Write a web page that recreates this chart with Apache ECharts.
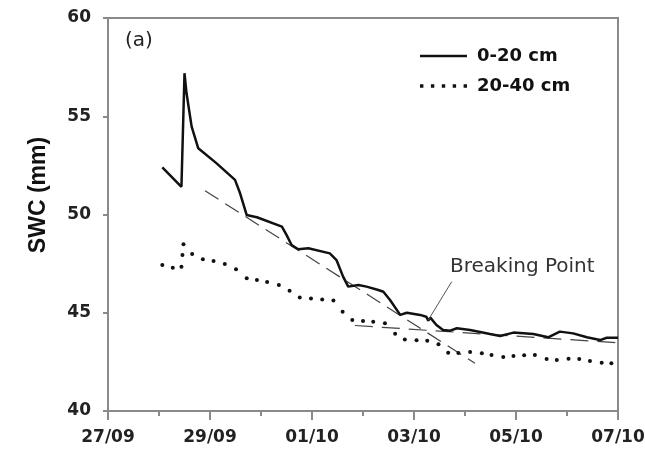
<!DOCTYPE html>
<html>
<head>
<meta charset="utf-8">
<script src="https://cdn.jsdelivr.net/npm/echarts@6/dist/echarts.min.js"></script>
<style>
html,body{margin:0;padding:0;background:#fff;}
#chart{width:645px;height:455px;}
</style>
</head>
<body>
<div id="chart"></div>
<script>
// x values are days since 27/09 00:00
const tickDays = [0, 2, 4, 6, 8, 10];
const tickLabels = ['27/09', '29/09', '01/10', '03/10', '05/10', '07/10'];

const days020 = [1.065, 1.44, 1.50, 1.54, 1.64, 1.77, 2.13, 2.49, 2.59, 2.72, 2.85, 2.92, 3.41, 3.50, 3.60, 3.73, 3.93, 4.35, 4.48, 4.61, 4.71, 4.91, 5.07, 5.30, 5.40, 5.53, 5.73, 5.86, 6.12, 6.24, 6.28, 6.32, 6.44, 6.57, 6.71, 6.84, 7.10, 7.49, 7.69, 7.95, 8.34, 8.63, 8.86, 9.12, 9.39, 9.65, 9.78, 10.0];
const swc020 = [52.40, 51.41, 57.19, 56.17, 54.47, 53.37, 52.60, 51.76, 51.08, 49.97, 49.90, 49.86, 49.38, 48.96, 48.45, 48.23, 48.28, 48.02, 47.68, 46.84, 46.33, 46.41, 46.33, 46.16, 46.07, 45.65, 44.89, 45.00, 44.89, 44.80, 44.60, 44.75, 44.38, 44.12, 44.09, 44.21, 44.12, 43.92, 43.82, 43.99, 43.92, 43.75, 44.04, 43.95, 43.75, 43.61, 43.73, 43.73];

const days2040 = [1.065, 1.27, 1.44, 1.46, 1.48, 1.65, 1.86, 2.07, 2.29, 2.51, 2.72, 2.92, 3.12, 3.35, 3.56, 3.76, 3.98, 4.20, 4.42, 4.60, 4.79, 5.00, 5.20, 5.43, 5.63, 5.82, 6.05, 6.26, 6.48, 6.67, 6.87, 7.10, 7.33, 7.52, 7.75, 7.95, 8.16, 8.37, 8.60, 8.80, 9.03, 9.24, 9.45, 9.68, 9.87];
const swc2040 = [47.43, 47.29, 47.34, 47.94, 48.48, 47.99, 47.72, 47.63, 47.48, 47.21, 46.75, 46.67, 46.56, 46.41, 46.12, 45.78, 45.72, 45.68, 45.62, 45.05, 44.63, 44.58, 44.54, 44.46, 43.93, 43.64, 43.60, 43.58, 43.40, 42.97, 42.95, 43.00, 42.94, 42.85, 42.75, 42.80, 42.84, 42.85, 42.64, 42.60, 42.66, 42.64, 42.54, 42.45, 42.43];

const trend1Days = [1.902, 7.196];
const trend1Vals = [51.21, 42.43];
const trend2Days = [4.84, 10.18];
const trend2Vals = [44.35, 43.44];

const arrowFrom = [6.739, 46.58];
const arrowTo = [6.28, 44.63];

const seriesNames = ['0-20 cm', '20-40 cm'];

const zip = (a, b) => a.map((v, i) => [v, b[i]]);

const chart = echarts.init(document.getElementById('chart'));
const tickFont = 'DejaVu Sans';

chart.setOption({
  animation: false,
  backgroundColor: '#ffffff',
  grid: {
    left: 108, right: 27, top: 18, bottom: 44,
    show: true, borderColor: '#8a8a8a', borderWidth: 2,
    outerBoundsMode: 'none', containLabel: false
  },
  legend: {
    orient: 'vertical',
    left: 415, top: 41,
    itemWidth: 47, itemHeight: 20, itemGap: 10,
    selectedMode: false,
    textStyle: { fontFamily: tickFont, fontWeight: 'bold', fontSize: 18, color: '#111', lineHeight: 20, padding: [0, 0, 0, 5] },
    data: [
      { name: seriesNames[0], icon: 'path://M0,0H47V2.4H0Z', itemStyle: { color: '#111' } },
      { name: seriesNames[1], icon: 'path://M0,0h3.4v3.4h-3.4z M10.9,0h3.4v3.4h-3.4z M21.8,0h3.4v3.4h-3.4z M32.7,0h3.4v3.4h-3.4z M43.6,0h3.4v3.4h-3.4z', itemStyle: { color: '#111' } }
    ]
  },
  xAxis: {
    type: 'value', min: 0, max: 10, interval: 2,
    axisLine: { show: true, lineStyle: { color: '#8a8a8a', width: 2 } },
    axisTick: { show: true, length: 9, lineStyle: { color: '#8a8a8a', width: 2 } },
    minorTick: { show: true, splitNumber: 2, length: 5, lineStyle: { color: '#8a8a8a', width: 2 } },
    splitLine: { show: false },
    axisLabel: {
      margin: 18, fontFamily: tickFont, fontWeight: 'bold', fontSize: 17, color: '#222',
      formatter: v => { const i = tickDays.indexOf(Math.round(v)); return i >= 0 ? tickLabels[i] : ''; }
    }
  },
  yAxis: {
    type: 'value', min: 40, max: 60, interval: 5,
    axisLine: { show: true, lineStyle: { color: '#8a8a8a', width: 2 } },
    axisTick: { show: true, length: 5, lineStyle: { color: '#8a8a8a', width: 2 } },
    splitLine: { show: false },
    axisLabel: { margin: 17, fontFamily: tickFont, fontWeight: 'bold', fontSize: 17, color: '#222' }
  },
  graphic: [
    { type: 'text', left: 125, top: 31, style: { text: '(a)', font: '20px "DejaVu Sans"', fill: '#222' } },
    { type: 'text', x: 450, y: 267, style: { text: 'Breaking Point', font: '20px "DejaVu Sans"', fill: '#333', verticalAlign: 'middle' } },
    { type: 'text', x: 39, y: 195, rotation: Math.PI / 2, style: { text: 'SWC (mm)', font: 'bold 23px "Liberation Sans"', fill: '#111', align: 'center', verticalAlign: 'middle' } }
  ],
  series: [
    {
      name: 'trend1', type: 'line', data: zip(trend1Days, trend1Vals), showSymbol: false, symbol: 'none',
      lineStyle: { color: '#444', width: 1.2, type: [16, 8] }, silent: true, z: 1,
      markLine: {
        silent: true, symbol: ['none', 'arrow'], symbolSize: [0, 8],
        label: { show: false },
        lineStyle: { color: '#555', width: 1, type: 'solid' },
        data: [[{ coord: arrowFrom }, { coord: arrowTo }]]
      }
    },
    {
      name: 'trend2', type: 'line', data: zip(trend2Days, trend2Vals), showSymbol: false, symbol: 'none', clip: false,
      lineStyle: { color: '#444', width: 1.2, type: [18, 9] }, silent: true, z: 1
    },
    {
      name: seriesNames[0], type: 'line', data: zip(days020, swc020), showSymbol: false, symbol: 'none',
      lineStyle: { color: '#111', width: 2.5 }, itemStyle: { color: '#111' }, z: 3
    },
    {
      name: seriesNames[1], type: 'line', data: zip(days2040, swc2040), showSymbol: true, symbol: 'circle', symbolSize: 4,
      lineStyle: { width: 0, opacity: 0 }, itemStyle: { color: '#111' }, z: 2
    }
  ]
});
</script>
</body>
</html>
